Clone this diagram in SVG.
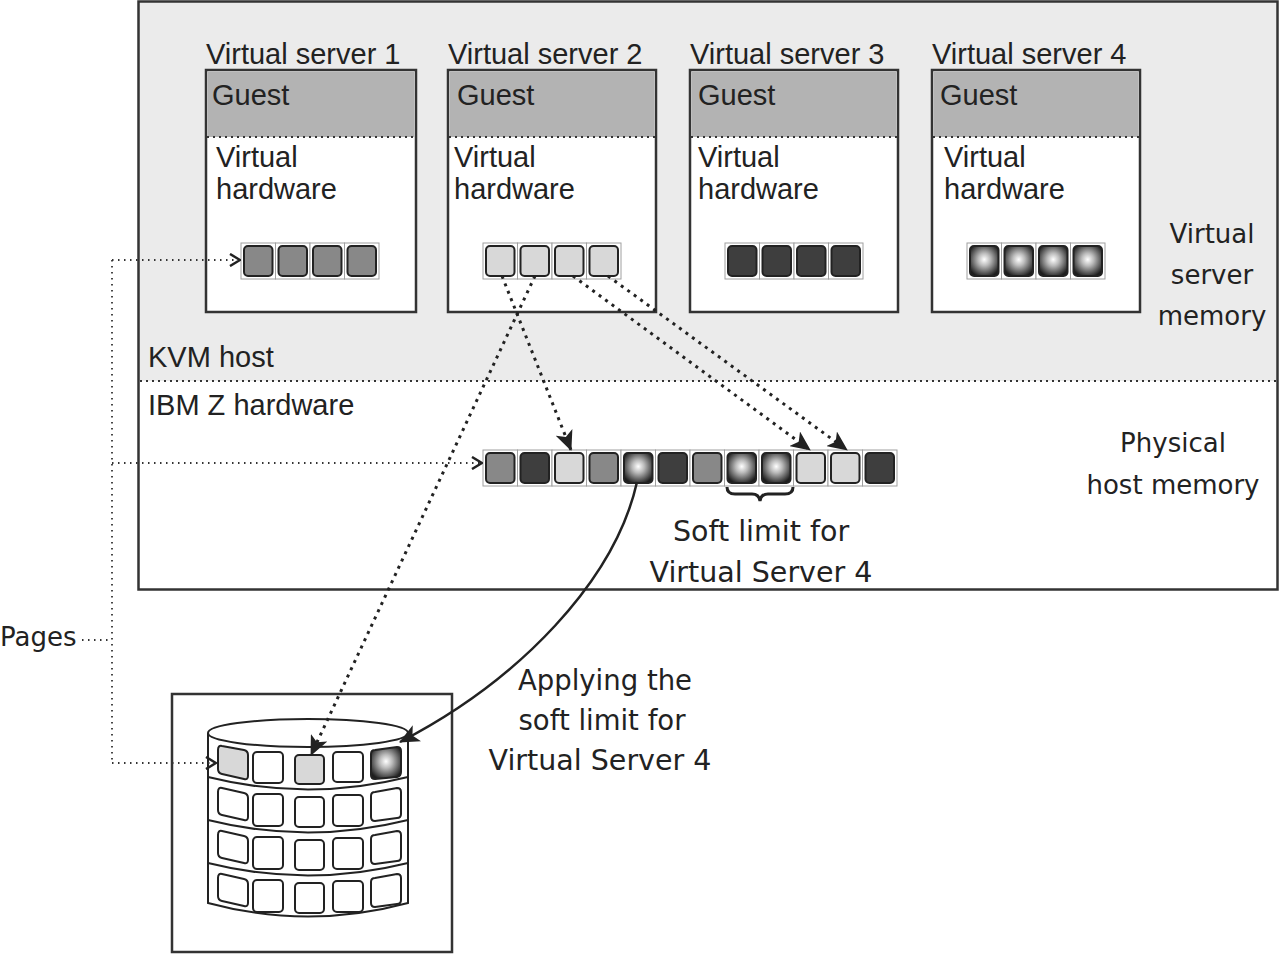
<svg xmlns="http://www.w3.org/2000/svg" xmlns:xlink="http://www.w3.org/1999/xlink" width="1280" height="954" viewBox="0 0 1280 954">
<style>
.frame{fill:none;stroke:#333;stroke-width:2.5}
.vs{fill:#fff;stroke:#333;stroke-width:2.5}
.guest{fill:#b3b3b3}
.sep{stroke:#333;stroke-width:2;stroke-dasharray:2 4;fill:none}
.sans{font-family:"Liberation Sans",Arial,sans-serif;font-size:29px;fill:#222}
.comic{font-family:"DejaVu Sans","Noto Sans",sans-serif;font-size:26px;fill:#222;text-anchor:middle}
.big{font-size:28.5px}
.pg{stroke:#333;stroke-width:1.8;stroke-dasharray:1.5 4.5;fill:none}
.dash{stroke:#222;stroke-width:3;stroke-dasharray:3 5;fill:none}
.cf{fill:#fff;stroke:#a0a0a0;stroke-width:1}
.ci{stroke:#222;stroke-width:2}
.dk{fill:#fff;stroke:#222;stroke-width:2}
</style>
<defs>
<radialGradient id="sph" cx="0.5" cy="0.45" r="0.6">
<stop offset="0" stop-color="#fff"/>
<stop offset="0.35" stop-color="#bbb"/>
<stop offset="1" stop-color="#1e1e1e"/>
</radialGradient>
<g id="cMid"><rect class="cf" x="0" y="0" width="34.5" height="36"/><rect class="ci" x="3" y="3" width="28.5" height="30" rx="4" fill="#888"/></g>
<g id="cDark"><rect class="cf" x="0" y="0" width="34.5" height="36"/><rect class="ci" x="3" y="3" width="28.5" height="30" rx="4" fill="#3e3e3e"/></g>
<g id="cLight"><rect class="cf" x="0" y="0" width="34.5" height="36"/><rect class="ci" x="3" y="3" width="28.5" height="30" rx="4" fill="#d8d8d8"/></g>
<g id="cSph"><rect class="cf" x="0" y="0" width="34.5" height="36"/><rect class="ci" x="3" y="3" width="28.5" height="30" rx="4" fill="url(#sph)"/></g>
<marker id="chev" viewBox="0 0 12 14" refX="11" refY="7" markerWidth="12" markerHeight="14" markerUnits="userSpaceOnUse" orient="auto">
<path d="M1,1 L11,7 L1,13" fill="none" stroke="#222" stroke-width="2.5"/>
</marker>
<marker id="tri" viewBox="0 0 20 18" refX="19" refY="9" markerWidth="20" markerHeight="18" markerUnits="userSpaceOnUse" orient="auto">
<path d="M0,0 L20,9 L0,18 L5,9 Z" fill="#222"/>
</marker>
</defs>

<g id="host">
<rect x="138" y="2" width="1140" height="379" fill="#ebebeb"/>
<rect class="frame" x="138.5" y="1.5" width="1139" height="588"/>
<line class="sep" x1="140" y1="381" x2="1277" y2="381"/>
<text class="sans" x="148" y="367">KVM host</text>
<text class="sans" x="148" y="415">IBM Z hardware</text>
<text class="comic" x="1212" y="243">Virtual</text>
<text class="comic" x="1212" y="284">server</text>
<text class="comic" x="1212" y="325">memory</text>
<text class="comic" x="1173" y="452">Physical</text>
<text class="comic" x="1173" y="494">host memory</text>
</g>

<g id="vs1">
<text class="sans" x="206" y="64">Virtual server 1</text>
<rect class="vs" x="206" y="70" width="210" height="242"/>
<rect class="guest" x="207.5" y="71.5" width="207" height="65.5"/>
<line class="sep" x1="207" y1="137" x2="415" y2="137"/>
<text class="sans" x="212" y="105">Guest</text>
<text class="sans" x="216" y="167">Virtual</text>
<text class="sans" x="216" y="199">hardware</text>
<use xlink:href="#cMid" x="241" y="243"/><use xlink:href="#cMid" x="275.5" y="243"/><use xlink:href="#cMid" x="310" y="243"/><use xlink:href="#cMid" x="344.5" y="243"/>
</g>

<g id="vs2">
<text class="sans" x="448" y="64">Virtual server 2</text>
<rect class="vs" x="448" y="70" width="208" height="242"/>
<rect class="guest" x="449.5" y="71.5" width="205" height="65.5"/>
<line class="sep" x1="449" y1="137" x2="655" y2="137"/>
<text class="sans" x="457" y="105">Guest</text>
<text class="sans" x="454" y="167">Virtual</text>
<text class="sans" x="454" y="199">hardware</text>
<use xlink:href="#cLight" x="483" y="243"/><use xlink:href="#cLight" x="517.5" y="243"/><use xlink:href="#cLight" x="552" y="243"/><use xlink:href="#cLight" x="586.5" y="243"/>
</g>

<g id="vs3">
<text class="sans" x="690" y="64">Virtual server 3</text>
<rect class="vs" x="690" y="70" width="208" height="242"/>
<rect class="guest" x="691.5" y="71.5" width="205" height="65.5"/>
<line class="sep" x1="691" y1="137" x2="897" y2="137"/>
<text class="sans" x="698" y="105">Guest</text>
<text class="sans" x="698" y="167">Virtual</text>
<text class="sans" x="698" y="199">hardware</text>
<use xlink:href="#cDark" x="725" y="243"/><use xlink:href="#cDark" x="759.5" y="243"/><use xlink:href="#cDark" x="794" y="243"/><use xlink:href="#cDark" x="828.5" y="243"/>
</g>

<g id="vs4">
<text class="sans" x="932" y="64">Virtual server 4</text>
<rect class="vs" x="932" y="70" width="208" height="242"/>
<rect class="guest" x="933.5" y="71.5" width="205" height="65.5"/>
<line class="sep" x1="933" y1="137" x2="1139" y2="137"/>
<text class="sans" x="940" y="105">Guest</text>
<text class="sans" x="944" y="167">Virtual</text>
<text class="sans" x="944" y="199">hardware</text>
<use xlink:href="#cSph" x="967" y="243"/><use xlink:href="#cSph" x="1001.5" y="243"/><use xlink:href="#cSph" x="1036" y="243"/><use xlink:href="#cSph" x="1070.5" y="243"/>
</g>

<g id="physical">
<use xlink:href="#cMid" x="483" y="450"/>
<use xlink:href="#cDark" x="517.5" y="450"/>
<use xlink:href="#cLight" x="552" y="450"/>
<use xlink:href="#cMid" x="586.5" y="450"/>
<use xlink:href="#cSph" x="621" y="450"/>
<use xlink:href="#cDark" x="655.5" y="450"/>
<use xlink:href="#cMid" x="690" y="450"/>
<use xlink:href="#cSph" x="724.5" y="450"/>
<use xlink:href="#cSph" x="759" y="450"/>
<use xlink:href="#cLight" x="793.5" y="450"/>
<use xlink:href="#cLight" x="828" y="450"/>
<use xlink:href="#cDark" x="862.5" y="450"/>
<path d="M727,487 Q727,494 735,494 L752,494 Q759,494 760,501 Q761,494 768,494 L785,494 Q793,494 793,487" fill="none" stroke="#222" stroke-width="3"/>
<text class="comic big" x="761" y="541">Soft limit for</text>
<text class="comic big" x="761" y="582">Virtual Server 4</text>
</g>

<g id="pages">
<text class="comic" x="0" y="646" style="text-anchor:start">Pages</text>
</g>

<g id="disk">
<rect x="172" y="694" width="280" height="258" fill="#fff" stroke="#333" stroke-width="2.5"/>
<path class="dk" d="M208,733 L208,903 Q308,930 408,903 L408,733"/>
<ellipse class="dk" cx="308" cy="733" rx="100" ry="14"/>
<path d="M208,777 Q308,802 408,777 M208,820 Q308,845 408,820 M208,863 Q308,888 408,863" fill="none" stroke="#222" stroke-width="2"/>
<g id="row1">
<path class="ci" fill="#d8d8d8" d="M222,746 L244,750 Q248,751 248,755 L248,776 Q248,780 244,779 L222,774 Q218,773 218,769 L218,750 Q218,745 222,746 Z"/>
<rect class="ci" fill="#fff" x="253" y="752" width="30" height="31" rx="4"/>
<rect class="ci" fill="#d8d8d8" x="295" y="755" width="29" height="29" rx="4"/>
<rect class="ci" fill="#fff" x="333" y="752" width="30" height="30" rx="4"/>
<path class="ci" fill="url(#sph)" d="M375,750 L397,747 Q401,747 401,751 L401,772 Q401,776 397,777 L375,779 Q371,779 371,775 L371,754 Q371,750 375,750 Z"/>
</g>
<g id="row2">
<path class="ci" fill="#fff" d="M222,788 L244,793 Q248,794 248,798 L248,817 Q248,821 244,820 L222,815 Q218,814 218,810 L218,792 Q218,787 222,788 Z"/>
<rect class="ci" fill="#fff" x="253" y="794" width="30" height="32" rx="4"/>
<rect class="ci" fill="#fff" x="295" y="797" width="29" height="30" rx="4"/>
<rect class="ci" fill="#fff" x="333" y="795" width="30" height="31" rx="4"/>
<path class="ci" fill="#fff" d="M375,792 L397,788 Q401,788 401,792 L401,814 Q401,818 397,818 L375,821 Q371,821 371,817 L371,796 Q371,792 375,792 Z"/>
</g>
<use xlink:href="#row2" x="0" y="43"/>
<use xlink:href="#row2" x="0" y="86"/>
<text class="comic" style="font-size:27.5px" x="605" y="690">Applying the</text>
<text class="comic" style="font-size:27.5px" x="602" y="730">soft limit for</text>
<text class="comic big" x="600" y="770">Virtual Server 4</text>
</g>

<g id="connectors">
<path class="pg" d="M82,640 L112,640"/>
<path class="pg" d="M112,260 L112,763"/>
<path class="pg" d="M112,260 L240,260" marker-end="url(#chev)"/>
<path class="pg" d="M112,463 L482,463" marker-end="url(#chev)"/>
<path class="pg" d="M112,763 L216,763" marker-end="url(#chev)"/>
<path class="dash" d="M502,276 L571,450" marker-end="url(#tri)"/>
<path class="dash" d="M535,276 L311,755" marker-end="url(#tri)"/>
<path class="dash" d="M573,276 L810,450" marker-end="url(#tri)"/>
<path class="dash" d="M608,276 L847,450" marker-end="url(#tri)"/>
<path d="M637,482 C615,580 520,680 400,742" fill="none" stroke="#222" stroke-width="2.5" marker-end="url(#tri)"/>
</g>
</svg>
